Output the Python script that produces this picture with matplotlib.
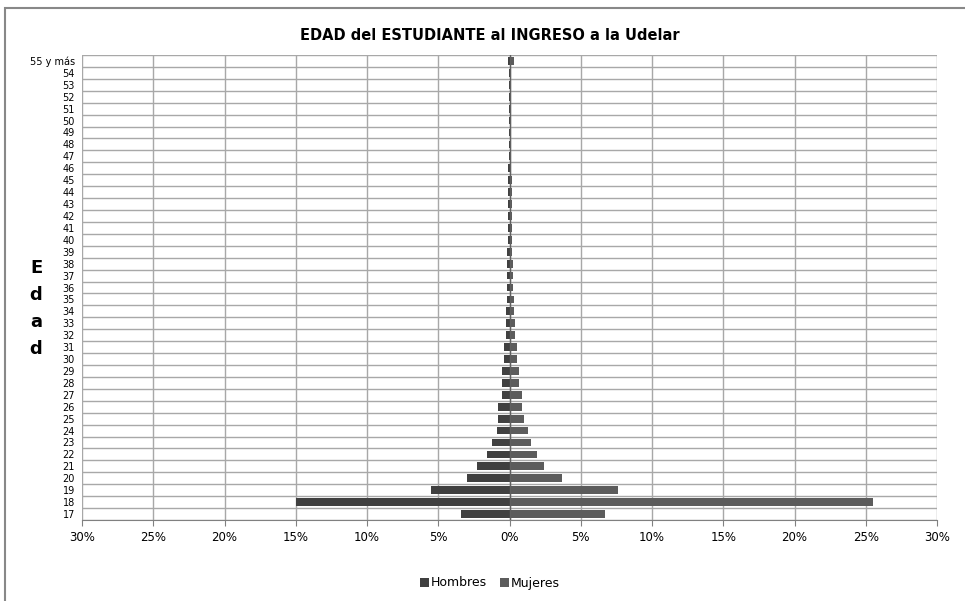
import numpy as np
import matplotlib.pyplot as plt
from matplotlib.patches import Rectangle

# ages, bottom to top
edades = [str(a) for a in range(17, 55)] + ['55 y más']

# percentages
hombres = [3.4, 15.0, 5.5, 2.95, 2.3, 1.55, 1.2, 0.9, 0.8, 0.8,
           0.55, 0.55, 0.5, 0.4, 0.4, 0.25, 0.25, 0.25, 0.2, 0.2,
           0.18, 0.15, 0.15, 0.12, 0.12, 0.1, 0.1, 0.1, 0.1, 0.08,
           0.06, 0.05, 0.05, 0.05, 0.04, 0.04, 0.04, 0.04, 0.1]
mujeres = [6.7, 25.5, 7.6, 3.7, 2.4, 1.9, 1.5, 1.27, 1.05, 0.9,
           0.85, 0.7, 0.7, 0.5, 0.5, 0.37, 0.37, 0.3, 0.3, 0.28,
           0.25, 0.22, 0.2, 0.2, 0.18, 0.16, 0.15, 0.15, 0.15, 0.1,
           0.08, 0.08, 0.07, 0.06, 0.05, 0.05, 0.05, 0.05, 0.35]
xticks = [-30, -25, -20, -15, -10, -5, 0, 5, 10, 15, 20, 25, 30]

plt.rcParams['font.family'] = ['DejaVu Sans']

fig = plt.figure(figsize=(9.65, 6.01), dpi=100)
ax = fig.add_axes([82 / 965, 1 - 520 / 601, 855 / 965, 465 / 601])

y = np.arange(len(edades))
ax.barh(y, [-v for v in hombres], height=0.65, color='#404040', label='Hombres', zorder=3)
ax.barh(y, mujeres, height=0.65, color='#5c5c5c', label='Mujeres', zorder=3)

ax.set_xlim(-30, 30)
ax.set_ylim(-0.5, len(edades) - 0.5)
ax.set_xticks(xticks)
ax.set_xticklabels([f'{abs(t)}%' for t in xticks], fontsize=8.5)
ax.set_yticks(y)
ax.set_yticklabels(edades, fontsize=7)
ax.tick_params(axis='y', length=0, pad=5)
ax.tick_params(axis='x', length=4, color='#808080', pad=4)

# gridlines between rows and at each 5%
for b in np.arange(-0.5, len(edades), 1):
    ax.axhline(b, color='#a8a8a8', lw=1, zorder=1)
for t in xticks:
    ax.axvline(t, color='#a8a8a8', lw=1, zorder=1)
ax.axvline(0, color='#606060', lw=1, zorder=4)
for s in ax.spines.values():
    s.set_visible(False)
ax.spines['bottom'].set_visible(True)
ax.spines['bottom'].set_color('#808080')

fig.text(490 / 965, 1 - 35 / 601, 'EDAD del ESTUDIANTE al INGRESO a la Udelar',
         ha='center', va='center', fontsize=10.5, fontweight='semibold')

for i, ch in enumerate('Edad'):
    fig.text(36 / 965, 1 - (268 + 27 * i) / 601, ch, ha='center', va='center',
             fontsize=13, fontweight='bold')

fig.legend(loc='center', bbox_to_anchor=(490 / 965, 1 - 583 / 601), ncol=2,
           frameon=False, fontsize=9, handlelength=0.7, handleheight=0.7,
           handletextpad=0.2, columnspacing=1.0)

# chart area border
fig.patches.append(Rectangle((5 / 965, -0.01), 1.0, 1 - 8 / 601 + 0.01,
                             transform=fig.transFigure, fill=False,
                             edgecolor='#888888', lw=1.5))

fig.savefig('out.png', dpi=100)
